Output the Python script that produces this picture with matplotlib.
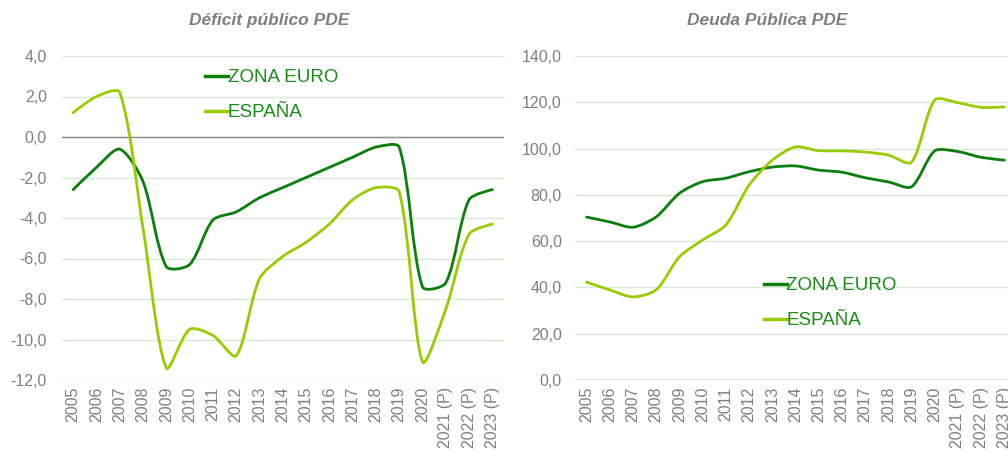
import matplotlib

matplotlib.use("Agg")

import matplotlib.pyplot as plt
import numpy as np
from matplotlib.lines import Line2D
from matplotlib.patches import PathPatch
from matplotlib.path import Path

years = ["2005", "2006", "2007", "2008", "2009", "2010", "2011", "2012", "2013",
         "2014", "2015", "2016", "2017", "2018", "2019", "2020",
         "2021 (P)", "2022 (P)", "2023 (P)"]

deficit_ze = [-2.6, -1.5, -0.6, -2.2, -6.4, -6.3, -4.1, -3.7, -3.0,
              -2.5, -2.0, -1.5, -1.0, -0.5, -0.5, -7.4, -7.2, -3.1, -2.6]
deficit_es = [1.2, 2.0, 2.2, -4.5, -11.4, -9.5, -9.8, -10.8, -7.0,
              -5.9, -5.2, -4.3, -3.1, -2.5, -2.7, -11.1, -8.5, -4.8, -4.3]

deuda_ze = [70.4, 68.3, 66.0, 70.5, 80.7, 85.7, 87.2, 90.0, 92.0,
            92.5, 90.7, 89.8, 87.4, 85.6, 83.5, 99.0, 98.7, 96.2, 95.0]
deuda_es = [42.3, 38.9, 35.9, 39.0, 53.2, 60.5, 67.0, 84.2, 95.0,
            100.7, 99.1, 99.0, 98.5, 97.2, 94.1, 121.0, 119.8, 117.8, 118.0]

DARK = "#0B7F0B"
LIGHT = "#99CC00"
GRAY = "#7F7F7F"
GRID = "#D6EBD2"

plt.rcParams["font.family"] = ["Liberation Sans", "DejaVu Sans"]


def smooth_path(ax, xs, ys, t=0.55):
    # Excel-like smoothing: Bezier controls weighted by on-screen segment lengths
    to_px = ax.transData
    pts = to_px.transform(np.column_stack([xs, ys]).astype(float))
    n = len(pts)
    c_in = pts.copy()
    c_out = pts.copy()
    for i in range(1, n - 1):
        d01 = np.hypot(*(pts[i] - pts[i - 1]))
        d12 = np.hypot(*(pts[i + 1] - pts[i]))
        tang = pts[i + 1] - pts[i - 1]
        c_in[i] = pts[i] - t * d01 / (d01 + d12) * tang / 2
        c_out[i] = pts[i] + t * d12 / (d01 + d12) * tang / 2
    verts = [pts[0]]
    codes = [Path.MOVETO]
    for i in range(n - 1):
        verts += [c_out[i], c_in[i + 1], pts[i + 1]]
        codes += [Path.CURVE4] * 3
    back = to_px.inverted().transform(np.array(verts))
    return Path(back, codes)


def draw_panel(ax, ze, es, ylim, step, title, title_x, ypad, legend_anchor):
    x = np.arange(len(years))
    ax.set_xlim(-0.5, len(years) - 0.5)
    ax.set_ylim(*ylim)
    ax.set_yticks(np.arange(ylim[0], ylim[1] + step / 2, step))
    ax.set_yticklabels([f"{v:.1f}".replace(".", ",") for v in ax.get_yticks()])
    ax.set_xticks(x)
    ax.set_xticklabels(years, rotation=90, va="top")
    ax.tick_params(axis="both", length=0, colors=GRAY, labelsize=11.5)
    ax.tick_params(axis="x", pad=5)
    ax.tick_params(axis="y", pad=ypad)
    for s in ax.spines.values():
        s.set_visible(False)
    ax.grid(axis="y", color=GRID, linewidth=1.0)
    ax.set_axisbelow(True)
    ax.axhline(0, color="#8C8C8C", linewidth=1.0, zorder=1.5)

    for vals, color in ((ze, DARK), (es, LIGHT)):
        patch = PathPatch(smooth_path(ax, x, vals), facecolor="none", edgecolor=color,
                          linewidth=2.0, capstyle="round", zorder=3)
        patch.set_clip_on(False)
        ax.add_patch(patch)

    ax.text(title_x, 1.11, title, transform=ax.transAxes, ha="center", va="center",
            fontsize=12.5, fontweight="bold", fontstyle="italic", color=GRAY)

    handles = [Line2D([], [], color=DARK, linewidth=2.5),
               Line2D([], [], color=LIGHT, linewidth=2.5)]
    ax.legend(handles, ["ZONA EURO", "ESPAÑA"], loc="upper left",
              bbox_to_anchor=legend_anchor, frameon=False, fontsize=13.5,
              handlelength=1.2, handletextpad=0.0, labelspacing=0.95,
              labelcolor="#1A8C1A", borderaxespad=0, borderpad=0)


fig = plt.figure(figsize=(10.08, 4.5), dpi=100)
ax1 = fig.add_axes([61.5 / 1008, 1 - 380 / 450, 442.5 / 1008, 324 / 450])
ax2 = fig.add_axes([575 / 1008, 1 - 380 / 450, 441 / 1008, 324 / 450])

draw_panel(ax1, deficit_ze, deficit_es, (-12, 4), 2, "Déficit público PDE", 0.47,
           10.5, ((205 - 61.5) / 442.5, (380 - 69) / 324))
draw_panel(ax2, deuda_ze, deuda_es, (0, 140), 20, "Deuda Pública PDE", 0.435,
           9.5, ((764 - 575) / 441, (380 - 277) / 324))

fig.savefig("out.png", dpi=100)
